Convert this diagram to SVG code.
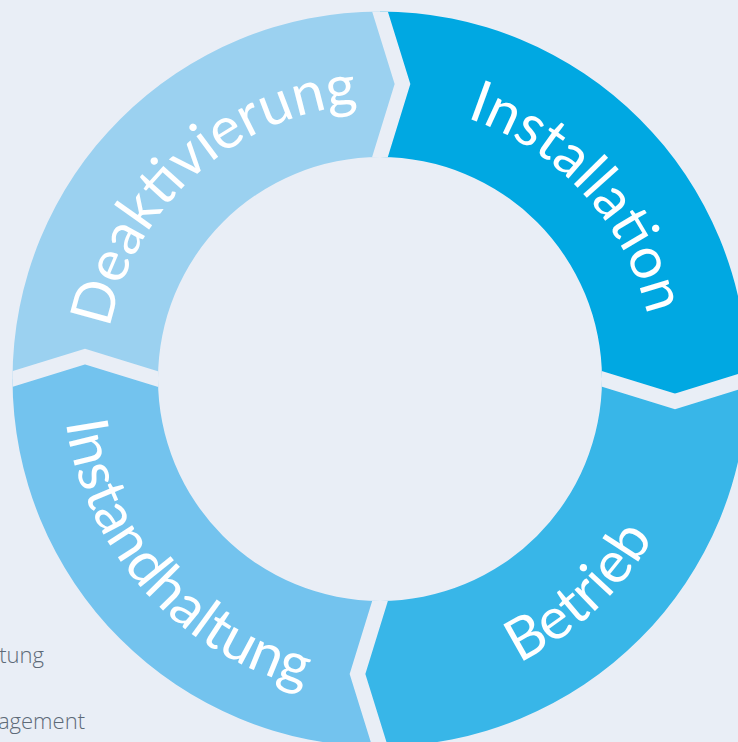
<svg xmlns="http://www.w3.org/2000/svg" width="738" height="742" viewBox="0 0 738 742">
  <style>
    .lbl { font-family: Lato, "Noto Sans", "Liberation Sans", sans-serif; font-size: 58px; fill: #ffffff; }
    .side { font-family: "Open Sans", "Noto Sans", "Liberation Sans", sans-serif; font-weight: 300; font-size: 22px; fill: #5d6a78; }
    .sep { fill: none; stroke: #e9eef6; stroke-width: 15; stroke-linejoin: miter; stroke-miterlimit: 10; }
  </style>
  <defs>
    <clipPath id="ring">
      <path clip-rule="evenodd" d="M12.5,379 A367.5,367.5 0 1 0 747.5,379 A367.5,367.5 0 1 0 12.5,379 Z M158,379 A222,222 0 1 0 602,379 A222,222 0 1 0 158,379 Z"/>
    </clipPath>
    <path id="pDeak" d="M146.8,524.7 A275,275 0 0 1 549.3,162.3"/>
    <path id="pInst" d="M232.2,147.1 A275,275 0 0 1 598.2,546.4"/>
    <path id="pBetr" d="M189.8,631.4 A316,316 0 0 0 645.0,206.9"/>
    <path id="pInstand" d="M130.2,183.8 A317,317 0 0 0 548.0,647.8"/>
  </defs>
  <rect width="738" height="742" fill="#e9eef6"/>

  <text class="side" x="44" y="663" text-anchor="end">tung</text>
  <text class="side" x="85" y="729" text-anchor="end">agement</text>

  <g clip-path="url(#ring)">
    <g id="installation-shape">
      <polygon fill="#00a8e2" points="380,379 373.2,179 402.5,84 373,-11 800,-11 800,372 770,372 675,401.5 580,372.2"/>
    </g>
    <g id="betrieb-shape">
      <polygon fill="#38b6e8" points="380,379 580,372.2 675,401.5 770,372 800,372 800,800 387,800 387,769 357.5,674 386.8,579"/>
    </g>
    <g id="instandhaltung-shape">
      <polygon fill="#73c3ee" points="380,379 386.8,579 357.5,674 387,769 387,800 -50,800 -50,386 -10,386 85,356.5 180,385.8"/>
    </g>
    <g id="deaktivierung-shape">
      <polygon fill="#9bd1f0" points="380,379 180,385.8 85,356.5 -10,386 -50,386 -50,-50 373,-50 373,-11 402.5,84 373.2,179"/>
    </g>
    <g id="connectors">
      <polyline class="sep" points="373.2,179 402.5,84 373,-11"/>
      <polyline class="sep" points="580,372.2 675,401.5 770,372"/>
      <polyline class="sep" points="386.8,579 357.5,674 387,769"/>
      <polyline class="sep" points="180,385.8 85,356.5 -10,386"/>
    </g>
  </g>

  <g id="deaktivierung">
    <text class="lbl"><textPath href="#pDeak" startOffset="50%" text-anchor="middle">Deaktivierung</textPath></text>
  </g>
  <g id="installation">
    <text class="lbl"><textPath href="#pInst" startOffset="50%" text-anchor="middle">Installation</textPath></text>
  </g>
  <g id="betrieb">
    <text class="lbl"><textPath href="#pBetr" startOffset="50%" text-anchor="middle">Betrieb</textPath></text>
  </g>
  <g id="instandhaltung">
    <text class="lbl"><textPath href="#pInstand" startOffset="50%" text-anchor="middle">Instandhaltung</textPath></text>
  </g>
</svg>
